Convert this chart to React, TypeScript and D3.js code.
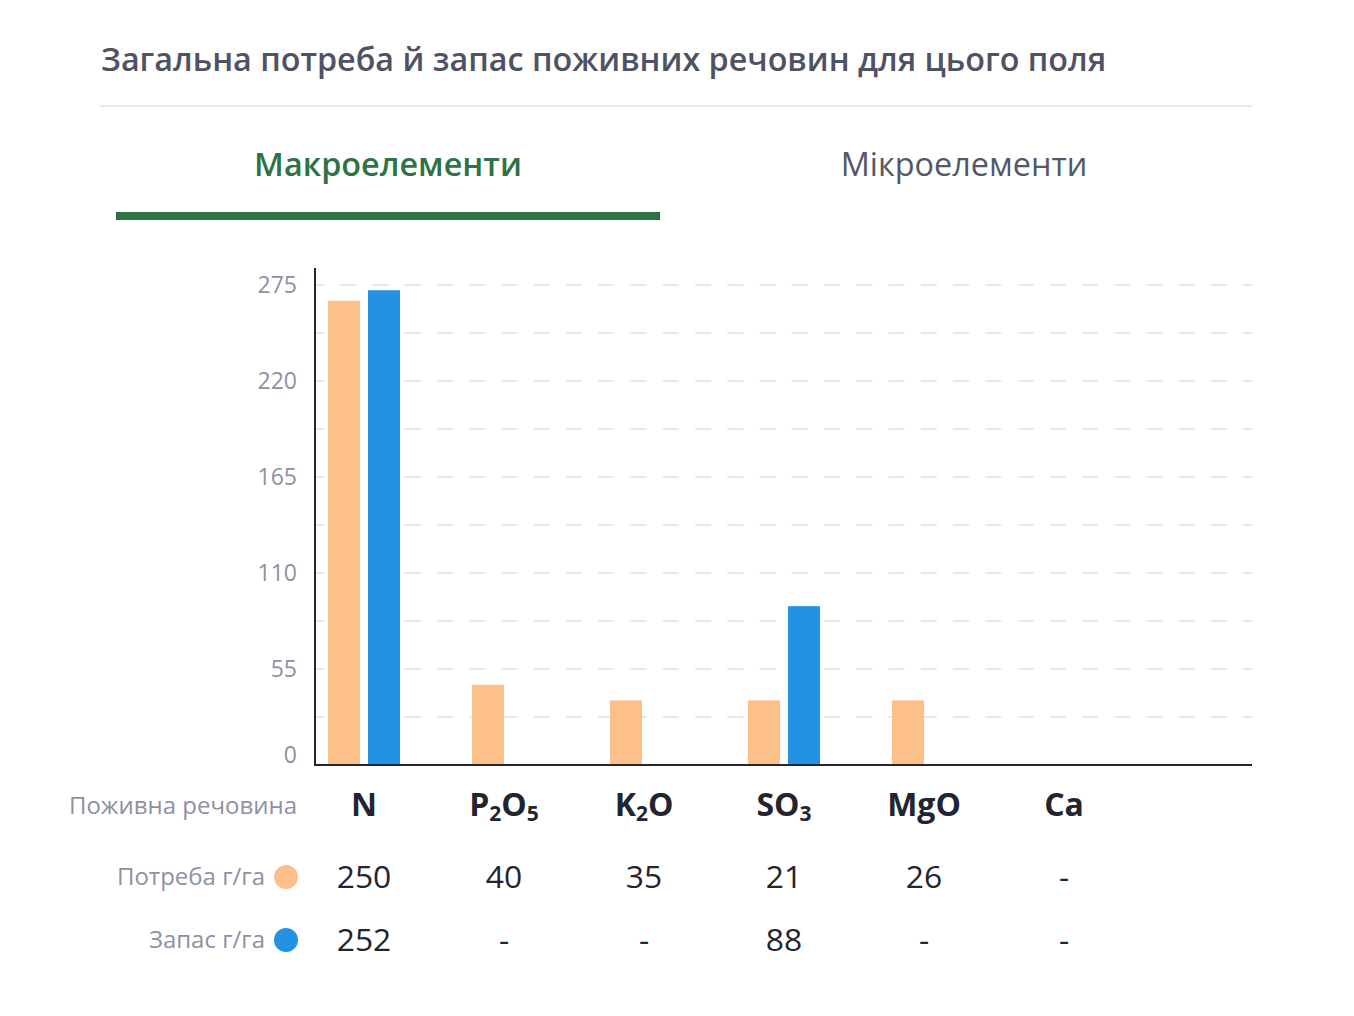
import React, { useEffect, useRef } from 'react';
import * as d3 from 'd3';

// nutrient names, split into [text, isSubscript] parts
const nutrients = ['N', 'P2O5', 'K2O', 'SO3', 'MgO', 'Ca'];
const nutrientParts = [
  [['N', false]],
  [['P', false], ['2', true], ['O', false], ['5', true]],
  [['K', false], ['2', true], ['O', false]],
  [['S', false], ['O', false], ['3', true]],
  [['MgO', false]],
  [['Ca', false]],
];
// bar heights as drawn
const needBars = [266, 46, 37, 37, 37, null];
const supplyBars = [272, null, null, 91, null, null];
// values shown in the table
const needLabels = ['250', '40', '35', '21', '26', '-'];
const supplyLabels = ['252', '-', '-', '88', '-', '-'];
const yTicks = [0, 55, 110, 165, 220, 275];
const gridValues = [27.5, 55, 82.5, 110, 137.5, 165, 192.5, 220, 247.5, 275];

const FONT = '"Open Sans", "Noto Sans", sans-serif';
const NEED = '#fec08a';
const SUPPLY = '#2492e2';

const App = () => {
  const svgRef = useRef(null);

  useEffect(() => {
    const svg = d3.select(svgRef.current);
    svg.selectAll('*').remove();
    svg.style('font-family', FONT);

    // title
    svg.append('text')
      .attr('x', 93).attr('y', 63)
      .attr('font-size', 32.3).attr('font-weight', 600)
      .attr('fill', '#4f5263')
      .text('Загальна потреба й запас поживних речовин для цього поля');

    svg.append('line')
      .attr('x1', 92).attr('x2', 1244).attr('y1', 98).attr('y2', 98)
      .attr('stroke', '#e8e8ea').attr('stroke-width', 2);

    // tabs
    svg.append('text')
      .attr('x', 380).attr('y', 168).attr('text-anchor', 'middle')
      .attr('font-size', 32.4).attr('font-weight', 600).attr('fill', '#2e7346')
      .text('Макроелементи');
    svg.append('text')
      .attr('x', 956).attr('y', 168).attr('text-anchor', 'middle')
      .attr('font-size', 32.4).attr('fill', '#545767')
      .text('Мікроелементи');
    svg.append('rect')
      .attr('x', 108).attr('y', 204).attr('width', 544).attr('height', 8)
      .attr('fill', '#2e7346');

    // scales
    const y = d3.scaleLinear().domain([0, 275]).range([757, 277]);
    const x = d3.scaleBand().domain(nutrients).range([286, 1126]);
    const center = (d) => x(d) + x.bandwidth() / 2;

    // grid
    svg.append('g').selectAll('line')
      .data(gridValues)
      .join('line')
      .attr('x1', 308).attr('x2', 1244)
      .attr('y1', d => y(d)).attr('y2', d => y(d))
      .attr('stroke', '#e8e8e8').attr('stroke-width', 2)
      .attr('stroke-dasharray', '16.13 16.13')
      .attr('stroke-dashoffset', 8.13);

    // y tick labels
    svg.append('g').selectAll('text')
      .data(yTicks)
      .join('text')
      .attr('x', 289)
      .attr('y', d => y(d) + (d === 0 ? -2 : 8))
      .attr('text-anchor', 'end')
      .attr('font-size', 23).attr('fill', '#8d91a2')
      .text(d => d);

    // bars
    const barW = 32;
    nutrients.forEach((n, i) => {
      const c = center(n);
      const hasSupply = supplyBars[i] != null;
      if (needBars[i] != null) {
        svg.append('rect')
          .attr('x', hasSupply ? c - 36 : c - 32 - (n === 'K2O' ? 2 : 0))
          .attr('y', y(needBars[i]))
          .attr('width', barW)
          .attr('height', y(0) - y(needBars[i]))
          .attr('fill', NEED);
      }
      if (hasSupply) {
        svg.append('rect')
          .attr('x', c + 4)
          .attr('y', y(supplyBars[i]))
          .attr('width', barW)
          .attr('height', y(0) - y(supplyBars[i]))
          .attr('fill', SUPPLY);
      }
    });

    // axes lines
    svg.append('line')
      .attr('x1', 307).attr('x2', 307).attr('y1', 260).attr('y2', 758)
      .attr('stroke', '#23252f').attr('stroke-width', 2);
    svg.append('line')
      .attr('x1', 306).attr('x2', 1244).attr('y1', 757).attr('y2', 757)
      .attr('stroke', '#23252f').attr('stroke-width', 2);

    // table: header row
    svg.append('text')
      .attr('x', 289).attr('y', 806).attr('text-anchor', 'end')
      .attr('font-size', 24).attr('fill', '#8d91a2')
      .text('Поживна речовина');

    nutrients.forEach((n, i) => {
      const t = svg.append('text')
        .attr('x', center(n)).attr('y', 808)
        .attr('text-anchor', 'middle')
        .attr('font-size', 32).attr('font-weight', 700).attr('fill', '#22252f');
      let sub = false;
      nutrientParts[i].forEach(([s, isSub]) => {
        const ts = t.append('tspan').text(s);
        if (isSub) {
          ts.attr('font-size', 21).attr('dy', sub ? 0 : 5);
        } else {
          ts.attr('dy', sub ? -5 : 0);
        }
        sub = isSub;
      });
    });

    // legend rows
    const rows = [
      { label: 'Потреба г/га', color: NEED, values: needLabels, yy: 869 },
      { label: 'Запас г/га', color: SUPPLY, values: supplyLabels, yy: 932 },
    ];
    rows.forEach(r => {
      svg.append('text')
        .attr('x', 257).attr('y', r.yy + 8).attr('text-anchor', 'end')
        .attr('font-size', 24).attr('fill', '#8d91a2')
        .text(r.label);
      svg.append('circle')
        .attr('cx', 278).attr('cy', r.yy).attr('r', 12)
        .attr('fill', r.color);
      svg.append('g').selectAll('text')
        .data(r.values)
        .join('text')
        .attr('x', (d, i) => center(nutrients[i]))
        .attr('y', r.yy + 11)
        .attr('text-anchor', 'middle')
        .attr('font-size', 31.8).attr('fill', '#22252f')
        .text(d => d);
    });
  }, []);

  return (
    <svg ref={svgRef} width={1338} height={1000} style={{ display: 'block' }} />
  );
};

export default App;
